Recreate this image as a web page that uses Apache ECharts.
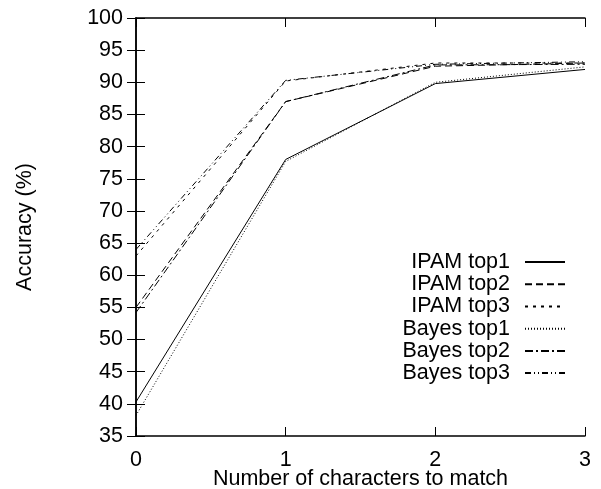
<!DOCTYPE html>
<html><head><meta charset="utf-8">
<script src="https://cdn.jsdelivr.net/npm/echarts@6/dist/echarts.min.js"></script>
<style>html,body{margin:0;padding:0;background:#fff}#c{width:601px;height:489px}</style>
</head><body><div id="c"></div>
<script>
const xValues = [0, 1, 2, 3];
const seriesNames = ['IPAM top1','IPAM top2','IPAM top3','Bayes top1','Bayes top2','Bayes top3'];
const ipamTop1 = [40.3, 78.0, 89.8, 92.0];
const ipamTop2 = [55.0, 87.0, 92.5, 93.0];
const ipamTop3 = [63.0, 90.2, 93.0, 93.0];
const bayesTop1 = [38.2, 77.7, 90.0, 92.4];
const bayesTop2 = [54.2, 87.0, 92.7, 92.8];
const bayesTop3 = [64.0, 90.3, 92.8, 93.2];
const allValues = [ipamTop1, ipamTop2, ipamTop3, bayesTop1, bayesTop2, bayesTop3];
const dashes = ['solid', [7,4], [3,5], [1,2], [8,3,2,3], [6,3,1,3,1,3]];

const font = 'Liberation Sans, Arial, Helvetica, sans-serif';
const fs = 21.5;
const chart = echarts.init(document.getElementById('c'));
const axisLine = {show:true, lineStyle:{color:'#000', width:1.5}};
const tick = {show:true, inside:true, length:9, lineStyle:{color:'#000', width:1}};
chart.setOption({
  animation:false,
  grid:{left:136, right:16, top:18, bottom:53, containLabel:false, outerBoundsMode:'none'},
  legend:{
    orient:'vertical', right:35, top:251, align:'right', itemGap:0, padding:0,
    itemWidth:40, itemHeight:14,
    itemStyle:{color:'transparent', borderWidth:0, opacity:0},
    textStyle:{fontFamily:font, fontSize:fs, lineHeight:22.2, color:'#000', width:125, align:'right', padding:[0,10,0,0]},
    data:seriesNames
  },
  xAxis:[{
    type:'value', min:0, max:3, interval:1,
    name:'Number of characters to match', nameLocation:'middle', nameGap:32, nameMoveOverlap:false,
    nameTextStyle:{fontFamily:font, fontSize:fs, color:'#000'},
    axisLine:axisLine, axisTick:tick, splitLine:{show:false},
    axisLabel:{fontFamily:font, fontSize:fs, color:'#000', margin:13}
  },{
    type:'value', min:0, max:3, interval:1, position:'top',
    axisLine:axisLine, axisTick:tick, splitLine:{show:false}, axisLabel:{show:false}
  }],
  yAxis:[{
    type:'value', min:35, max:100, interval:5,
    name:'Accuracy (%)', nameLocation:'middle', nameGap:100, nameRotate:90,
    nameTextStyle:{fontFamily:font, fontSize:fs, color:'#000'},
    axisLine:axisLine, axisTick:tick, splitLine:{show:false},
    axisLabel:{fontFamily:font, fontSize:fs, color:'#000', margin:13}
  },{
    type:'value', min:35, max:100, interval:5, position:'right',
    axisLine:axisLine, axisTick:tick, splitLine:{show:false}, axisLabel:{show:false}
  }],
  series: seriesNames.map((n,i)=>({
    name:n, type:'line', symbol:'none', showSymbol:false,
    data: xValues.map((x,j)=>[x, allValues[i][j]]),
    lineStyle:{color:'#000', width:1, type:dashes[i]},
    itemStyle:{color:'#000'}
  }))
});
</script></body></html>
